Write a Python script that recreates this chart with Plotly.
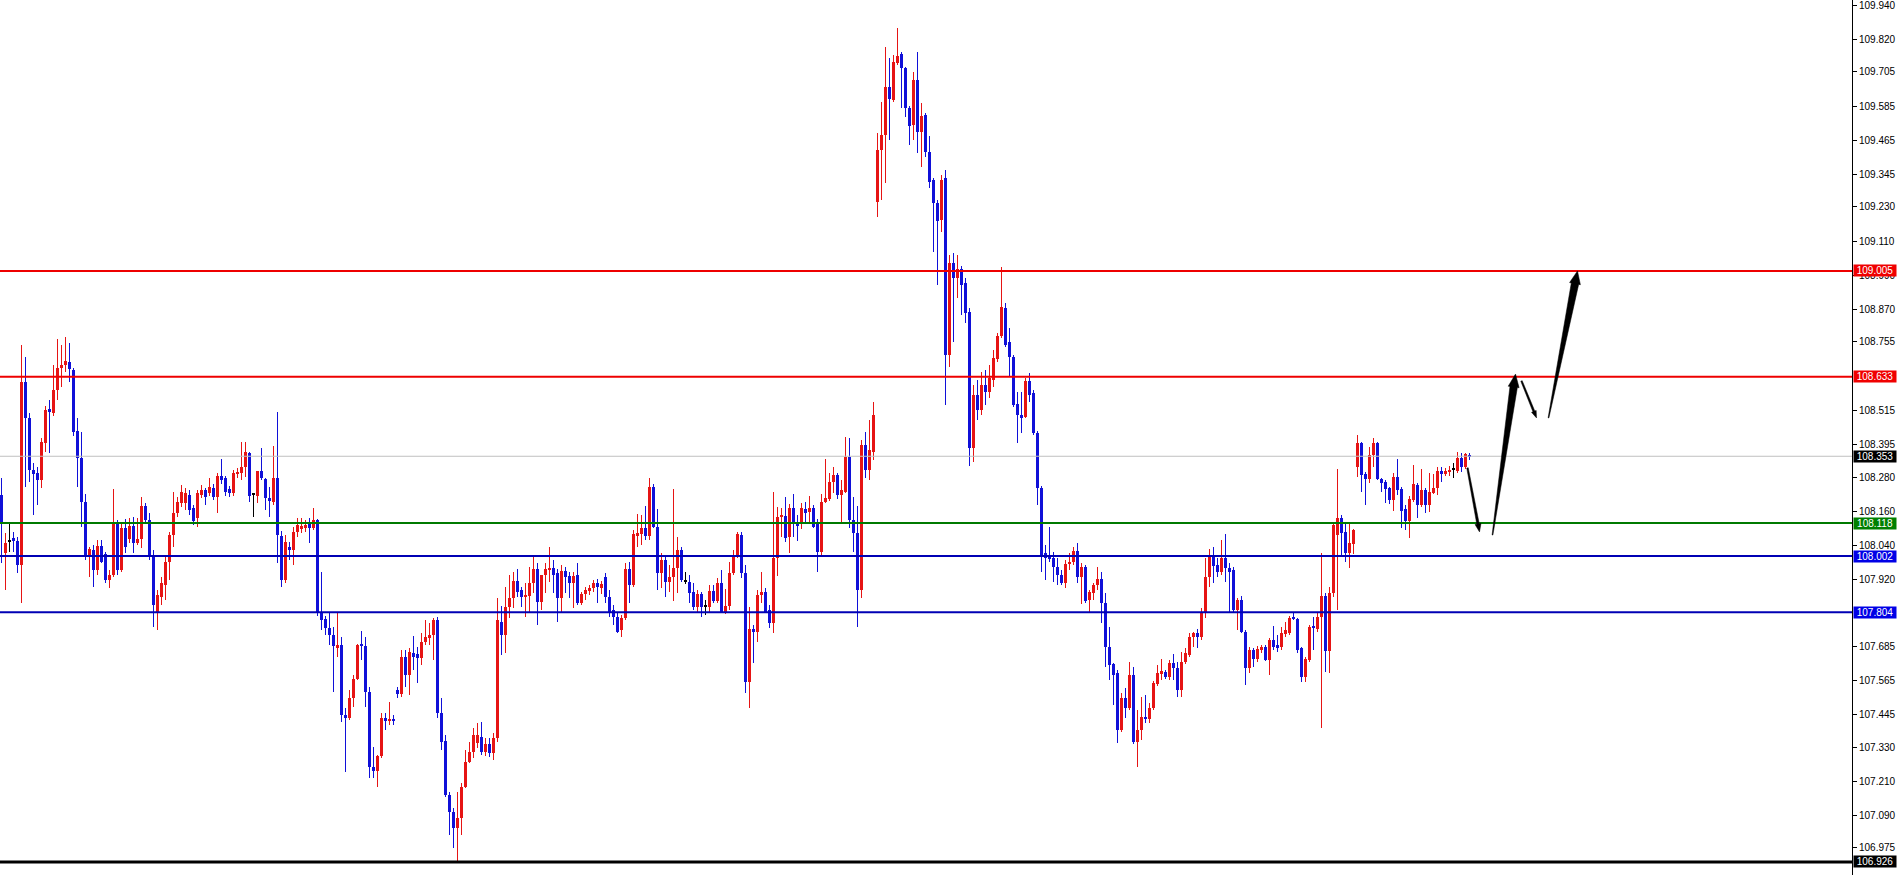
import math
import plotly.graph_objects as go

# ---------------- data (USDJPY-like candles) ----------------
opens = [
108.217,108.013,108.052,108.066,108.055,107.970,108.614,108.488,108.305,108.294,
108.270,108.400,108.520,108.505,108.586,108.664,108.674,108.685,108.657,108.442,
108.347,108.192,107.999,108.023,107.953,108.038,108.009,107.918,107.936,108.122,
107.953,108.101,108.062,108.108,108.048,108.062,108.178,108.129,107.999,107.805,
107.858,107.900,107.981,108.076,108.154,108.189,108.189,108.217,108.171,108.136,
108.217,108.235,108.224,108.242,108.210,108.284,108.277,108.238,108.224,108.291,
108.294,108.315,108.365,108.217,108.213,108.301,108.273,108.206,108.192,108.277,
108.073,107.918,108.034,108.023,108.087,108.097,108.101,108.115,108.101,108.129,
107.802,107.781,107.749,107.724,107.682,107.689,107.443,107.432,107.503,107.570,
107.689,107.686,107.524,107.260,107.246,107.299,107.432,107.422,107.429,107.531,
107.517,107.647,107.584,107.661,107.658,107.643,107.700,107.717,107.724,107.777,
107.450,107.352,107.162,107.102,107.046,107.081,107.190,107.278,107.313,107.345,
107.366,107.313,107.341,107.309,107.362,107.770,107.724,107.823,107.855,107.914,
107.883,107.858,107.862,107.907,107.957,107.840,107.936,107.953,107.960,107.943,
107.855,107.950,107.932,107.907,107.936,107.837,107.869,107.879,107.890,107.907,
107.890,107.929,107.858,107.812,107.788,107.742,107.784,107.957,107.900,108.076,
108.080,108.101,108.073,108.245,108.104,107.943,107.988,107.911,107.929,107.960,
108.023,107.914,107.911,107.876,107.823,107.869,107.826,107.823,107.879,107.844,
107.907,107.805,107.826,107.943,108.002,108.076,107.943,107.559,107.746,107.735,
107.865,107.876,107.812,107.767,107.995,108.139,108.143,108.069,108.171,108.118,
108.118,108.168,108.157,108.171,108.118,108.016,108.192,108.203,108.263,108.287,
108.217,108.228,108.351,108.129,108.083,107.883,108.393,108.305,108.368,109.247,
109.430,109.483,109.652,109.606,109.736,109.768,109.719,109.578,109.518,109.677,
109.494,109.553,109.423,109.325,109.244,109.184,109.332,108.709,109.033,108.980,
109.012,108.963,108.861,108.382,108.569,108.516,108.604,108.579,108.621,108.695,
108.776,108.875,108.755,108.702,108.537,108.498,108.491,108.618,108.576,108.435,
108.242,108.013,107.999,107.995,107.964,107.936,107.907,107.974,107.981,108.020,
107.929,107.964,107.848,107.872,107.900,107.921,107.837,107.682,107.622,107.591,
107.390,107.503,107.468,107.584,107.348,107.390,107.432,107.429,107.468,107.552,
107.587,107.594,107.577,107.626,107.608,107.531,107.629,107.654,107.717,107.731,
107.717,107.802,107.929,107.999,107.970,107.946,107.995,107.960,107.953,107.812,
107.848,107.735,107.608,107.672,107.640,107.672,107.682,107.636,107.707,107.689,
107.682,107.728,107.731,107.784,107.781,107.679,107.577,107.636,107.753,107.746,
107.788,107.862,107.668,107.872,108.076,108.136,108.087,108.013,108.045,108.315,
108.400,108.291,108.273,108.357,108.400,108.273,108.263,108.242,108.199,108.280,
108.238,108.168,108.125,108.199,108.252,108.182,108.235,108.182,108.224,108.242,
108.301,108.294,108.298,108.305,108.301,108.347,108.315,108.358]

highs = [
108.277,108.083,108.118,108.087,108.069,108.744,108.702,108.505,108.329,108.315,
108.417,108.530,108.551,108.674,108.766,108.744,108.773,108.752,108.664,108.488,
108.439,108.220,108.034,108.041,108.059,108.059,108.016,107.953,108.238,108.129,
108.122,108.132,108.136,108.139,108.136,108.210,108.189,108.154,108.023,107.883,
107.929,107.999,108.087,108.228,108.210,108.252,108.242,108.235,108.182,108.235,
108.252,108.242,108.277,108.256,108.294,108.343,108.284,108.249,108.305,108.312,
108.403,108.403,108.368,108.220,108.224,108.382,108.277,108.245,108.389,108.509,
108.090,108.076,108.052,108.104,108.136,108.136,108.129,108.136,108.171,108.132,
107.946,107.791,107.805,107.753,107.802,107.717,107.468,107.531,107.584,107.693,
107.738,107.717,107.542,107.330,107.302,107.450,107.450,107.489,107.443,107.542,
107.672,107.672,107.679,107.721,107.682,107.731,107.777,107.767,107.784,107.788,
107.503,107.373,107.172,107.116,107.172,107.204,107.320,107.348,107.397,107.415,
107.418,107.362,107.362,107.380,107.855,107.826,107.893,107.936,107.946,107.957,
107.893,107.907,107.964,108.002,107.977,107.858,107.977,108.034,107.988,107.957,
107.970,107.964,107.946,107.946,107.977,107.876,107.893,107.900,107.918,107.921,
107.914,107.943,107.883,107.830,107.805,107.795,107.977,107.981,108.094,108.150,
108.147,108.178,108.277,108.256,108.168,108.013,108.006,107.970,108.238,108.069,
108.034,107.946,107.936,107.907,107.883,107.876,107.848,107.900,107.900,107.925,
107.953,107.886,107.981,108.023,108.087,108.087,107.970,107.823,107.760,107.883,
107.946,107.890,107.830,108.228,108.175,108.171,108.210,108.185,108.220,108.147,
108.189,108.192,108.213,108.182,108.132,108.220,108.343,108.294,108.315,108.294,
108.270,108.421,108.417,108.210,108.178,108.410,108.439,108.481,108.544,109.490,
109.599,109.793,109.754,109.765,109.860,109.775,109.722,109.585,109.705,109.775,
109.596,109.561,109.480,109.332,109.255,109.343,109.360,109.061,109.068,109.061,
109.022,108.980,108.875,108.604,108.621,108.650,108.657,108.674,108.727,108.787,
109.019,108.892,108.804,108.709,108.579,108.579,108.628,108.646,108.586,108.442,
108.249,108.041,108.104,108.016,107.995,107.953,107.988,108.013,108.034,108.048,
107.977,107.970,107.883,107.907,107.964,107.946,107.872,107.753,107.626,107.601,
107.520,107.538,107.629,107.612,107.461,107.506,107.513,107.485,107.563,107.619,
107.640,107.601,107.636,107.658,107.629,107.665,107.679,107.731,107.735,107.746,
107.819,107.995,108.027,108.034,107.995,108.059,108.080,107.977,107.964,107.855,
107.862,107.742,107.682,107.679,107.686,107.689,107.689,107.714,107.756,107.724,
107.753,107.770,107.791,107.802,107.784,107.682,107.647,107.760,107.788,107.802,
108.013,107.872,107.893,108.122,108.308,108.147,108.118,108.118,108.097,108.428,
108.403,108.298,108.386,108.417,108.403,108.277,108.270,108.245,108.294,108.343,
108.245,108.182,108.213,108.322,108.259,108.308,108.242,108.294,108.291,108.315,
108.315,108.312,108.319,108.329,108.368,108.365,108.365,108.365]

lows = [
107.977,107.883,108.016,108.016,107.943,107.837,108.245,108.263,108.147,108.182,
108.242,108.368,108.365,108.495,108.551,108.596,108.650,108.614,108.425,108.245,
108.104,107.988,107.929,107.893,107.936,107.977,107.907,107.890,107.929,107.936,
107.946,108.013,108.048,108.013,108.041,108.030,108.122,107.988,107.753,107.742,
107.830,107.848,107.918,108.034,108.139,108.175,108.164,108.147,108.111,108.104,
108.206,108.182,108.213,108.199,108.154,108.256,108.213,108.210,108.213,108.277,
108.270,108.280,108.192,108.139,108.189,108.270,108.164,108.139,108.182,107.977,
107.893,107.907,107.988,107.970,108.069,108.083,108.087,108.048,108.094,107.791,
107.742,107.724,107.689,107.524,107.647,107.418,107.243,107.425,107.471,107.566,
107.636,107.471,107.221,107.221,107.190,107.292,107.390,107.408,107.408,107.503,
107.506,107.542,107.513,107.601,107.556,107.619,107.689,107.689,107.636,107.432,
107.320,107.155,107.021,106.975,106.926,107.021,107.186,107.274,107.292,107.327,
107.302,107.299,107.295,107.285,107.348,107.654,107.661,107.784,107.819,107.858,
107.823,107.788,107.805,107.872,107.760,107.812,107.872,107.911,107.872,107.770,
107.805,107.872,107.855,107.819,107.830,107.830,107.848,107.865,107.876,107.837,
107.869,107.837,107.788,107.760,107.731,107.717,107.777,107.837,107.893,108.034,
108.041,108.059,108.059,108.101,107.883,107.890,107.858,107.876,107.844,107.872,
107.911,107.904,107.837,107.812,107.805,107.788,107.795,107.802,107.837,107.837,
107.802,107.798,107.812,107.936,107.995,107.925,107.520,107.468,107.626,107.700,
107.837,107.802,107.749,107.731,107.932,108.069,108.052,108.013,108.069,108.055,
108.097,108.122,108.122,108.101,107.946,107.999,108.189,108.196,108.224,108.203,
108.122,108.224,108.101,108.016,107.753,107.855,108.277,108.270,108.340,109.195,
109.255,109.314,109.466,109.599,109.729,109.578,109.546,109.448,109.466,109.420,
109.371,109.406,109.297,109.072,108.956,109.142,108.533,108.667,108.755,108.910,
108.850,108.822,108.319,108.333,108.481,108.498,108.533,108.558,108.596,108.685,
108.769,108.737,108.632,108.526,108.400,108.435,108.488,108.544,108.428,108.182,
107.946,107.918,107.981,107.911,107.900,107.900,107.890,107.953,107.970,107.907,
107.834,107.837,107.805,107.848,107.883,107.767,107.612,107.566,107.478,107.345,
107.383,107.432,107.461,107.341,107.260,107.355,107.415,107.415,107.461,107.545,
107.566,107.570,107.566,107.566,107.506,107.506,107.622,107.647,107.682,107.679,
107.707,107.784,107.893,107.907,107.929,107.936,107.911,107.802,107.802,107.742,
107.731,107.549,107.591,107.612,107.629,107.661,107.633,107.584,107.672,107.665,
107.672,107.717,107.724,107.777,107.661,107.559,107.559,107.629,107.672,107.735,
107.397,107.594,107.591,107.858,107.812,107.999,107.981,107.960,108.009,108.280,
108.228,108.182,108.259,108.315,108.270,108.228,108.189,108.185,108.161,108.217,
108.101,108.094,108.066,108.192,108.136,108.175,108.154,108.157,108.220,108.217,
108.263,108.284,108.284,108.277,108.294,108.298,108.308,108.340]

closes = [
108.118,108.048,108.052,108.055,107.970,108.614,108.488,108.305,108.291,108.270,
108.403,108.516,108.509,108.586,108.664,108.674,108.688,108.660,108.439,108.347,
108.192,107.999,108.027,107.953,108.038,107.981,107.918,107.936,108.122,107.953,
108.101,108.034,108.108,108.048,108.062,108.178,108.129,107.999,107.830,107.865,
107.907,107.981,108.076,108.154,108.192,108.228,108.224,108.164,108.125,108.224,
108.235,108.210,108.245,108.210,108.284,108.270,108.228,108.224,108.294,108.298,
108.315,108.368,108.213,108.217,108.301,108.277,108.206,108.199,108.277,108.076,
107.918,108.052,108.023,108.087,108.111,108.108,108.111,108.101,108.129,107.802,
107.777,107.749,107.724,107.686,107.689,107.443,107.432,107.503,107.570,107.689,
107.686,107.524,107.260,107.246,107.299,107.432,107.422,107.429,107.422,107.517,
107.647,107.584,107.665,107.647,107.643,107.700,107.717,107.724,107.777,107.450,
107.348,107.162,107.102,107.046,107.081,107.190,107.278,107.313,107.373,107.373,
107.313,107.341,107.309,107.362,107.777,107.724,107.823,107.855,107.914,107.876,
107.858,107.862,107.907,107.957,107.840,107.936,107.957,107.960,107.936,107.855,
107.950,107.929,107.907,107.932,107.837,107.869,107.883,107.890,107.907,107.893,
107.904,107.858,107.805,107.788,107.735,107.784,107.957,107.900,108.080,108.083,
108.101,108.073,108.245,108.104,107.943,107.988,107.911,107.929,107.960,108.023,
107.918,107.914,107.872,107.823,107.869,107.823,107.826,107.879,107.844,107.907,
107.805,107.826,107.943,108.002,108.080,107.943,107.559,107.746,107.735,107.865,
107.876,107.805,107.767,107.995,108.139,108.147,108.066,108.171,108.118,108.108,
108.171,108.154,108.171,108.104,108.016,108.192,108.206,108.263,108.287,108.217,
108.235,108.351,108.129,108.083,107.883,108.393,108.305,108.375,108.498,109.430,
109.483,109.652,109.610,109.740,109.761,109.719,109.578,109.515,109.677,109.494,
109.550,109.423,109.318,109.244,109.181,109.325,108.709,109.033,108.980,109.012,
108.956,108.857,108.382,108.569,108.516,108.604,108.579,108.628,108.699,108.776,
108.878,108.744,108.702,108.533,108.498,108.491,108.618,108.569,108.435,108.242,
108.006,107.995,107.992,107.964,107.936,107.907,107.974,107.981,108.020,107.929,
107.964,107.844,107.876,107.900,107.921,107.837,107.682,107.619,107.584,107.390,
107.503,107.468,107.584,107.348,107.390,107.436,107.429,107.468,107.556,107.591,
107.598,107.577,107.626,107.608,107.531,107.629,107.661,107.717,107.731,107.717,
107.802,107.929,107.999,107.967,107.946,107.995,107.960,107.946,107.812,107.848,
107.735,107.608,107.672,107.640,107.675,107.682,107.636,107.707,107.682,107.679,
107.731,107.742,107.784,107.781,107.672,107.577,107.640,107.753,107.749,107.788,
107.862,107.668,107.872,108.111,108.136,108.083,108.013,108.048,108.094,108.400,
108.287,108.273,108.357,108.400,108.273,108.259,108.238,108.199,108.280,108.235,
108.161,108.125,108.203,108.256,108.182,108.235,108.182,108.228,108.242,108.301,
108.294,108.301,108.305,108.305,108.347,108.315,108.361,108.353]

# horizontal levels drawn on the chart
level_prices = [109.005, 108.633, 108.353, 108.118, 108.002, 107.804, 106.926]
level_colors = ["#EE0000", "#EE0000", "#C0C0C0", "#007A00", "#0000B4", "#0000B4", "#000000"]
level_widths = [2, 2, 1, 2, 2, 2, 3]
label_colors = ["#F00000", "#F00000", "#000000", "#008000", "#0000E6", "#0000E6", "#000000"]

# price-axis tick labels
tick_values = [109.940, 109.820, 109.705, 109.585, 109.465, 109.345, 109.230, 109.110,
               108.990, 108.870, 108.755, 108.515, 108.395, 108.280, 108.160, 108.040,
               107.920, 107.685, 107.565, 107.445, 107.330, 107.210, 107.090, 106.975]

# projection arrows: (tail bar, tail price, head bar, head price)
arrow_tails_x = [366.5, 372.75, 380.0, 386.75]
arrow_tails_y = [108.312, 108.076, 108.618, 108.488]
arrow_heads_x = [369.5, 378.5, 383.75, 394.0]
arrow_heads_y = [108.087, 108.642, 108.488, 109.005]

# ---------------- styling / geometry ----------------
W, H = 1899, 875
PLOT_W = 1852
Y_MIN, Y_MAX = 106.880, 109.958
X_MIN = -0.375
X_MAX = X_MIN + PLOT_W / 4.0
UP_COLOR = "#E61414"
DOWN_COLOR = "#1010D8"
DOJI_COLOR = "#000000"

n = min(len(opens), len(highs), len(lows), len(closes))
xs = list(range(n))

body_base, body_h, body_col = [], [], []
wick_base, wick_h, wick_col = [], [], []
min_body = (Y_MAX - Y_MIN) / H * 1.0
for i in range(n):
    o, h, l, c = opens[i], highs[i], lows[i], closes[i]
    hi = max(h, o, c)
    lo = min(l, o, c)
    if c > o:
        col = UP_COLOR
    elif c < o:
        col = DOWN_COLOR
    else:
        col = DOJI_COLOR
    body_base.append(min(o, c))
    body_h.append(max(abs(c - o), min_body))
    body_col.append(col)
    wick_base.append(lo)
    wick_h.append(hi - lo)
    wick_col.append(col)

fig = go.Figure()
fig.add_trace(go.Bar(x=xs, y=wick_h, base=wick_base, width=0.25,
                     marker=dict(color=wick_col, line=dict(width=0)),
                     hoverinfo="skip"))
fig.add_trace(go.Bar(x=xs, y=body_h, base=body_base, width=0.75,
                     marker=dict(color=body_col, line=dict(width=0)),
                     hoverinfo="skip"))

shapes = []
for p, c, w in zip(level_prices, level_colors, level_widths):
    shapes.append(dict(type="line", xref="paper", x0=0, x1=1, yref="y", y0=p, y1=p,
                       line=dict(color=c, width=w), layer="above"))

# arrow polygons (computed in pixel space, converted back to data units)
sx = PLOT_W / (X_MAX - X_MIN)
sy = H / (Y_MAX - Y_MIN)
arrow_style = [  # tail width, shaft width at head, head length, head width (px)
    (1.5, 2.5, 8, 6),
    (0.8, 7.5, 13, 11),
    (1.5, 2.0, 7, 5),
    (0.8, 7.5, 13, 11),
]
for k in range(len(arrow_tails_x)):
    tx, ty = arrow_tails_x[k] * sx, arrow_tails_y[k] * sy
    hx, hy = arrow_heads_x[k] * sx, arrow_heads_y[k] * sy
    dx, dy = hx - tx, hy - ty
    L = math.hypot(dx, dy)
    ux, uy = dx / L, dy / L
    nx, ny = -uy, ux
    tw, sw, hl, hw = arrow_style[k]
    bx, by = hx - ux * hl, hy - uy * hl
    pts = [
        (tx + nx * tw / 2, ty + ny * tw / 2),
        (bx + nx * sw / 2, by + ny * sw / 2),
        (bx + nx * hw / 2, by + ny * hw / 2),
        (hx, hy),
        (bx - nx * hw / 2, by - ny * hw / 2),
        (bx - nx * sw / 2, by - ny * sw / 2),
        (tx - nx * tw / 2, ty - ny * tw / 2),
    ]
    path = "M " + " L ".join(f"{px / sx:.4f},{py / sy:.5f}" for px, py in pts) + " Z"
    shapes.append(dict(type="path", xref="x", yref="y", path=path,
                       fillcolor="#000000", line=dict(color="#000000", width=0.5),
                       layer="above"))

annotations = []
for p, bg in zip(level_prices, label_colors):
    annotations.append(dict(xref="paper", x=1, xanchor="left", xshift=1,
                            yref="y", y=p, yanchor="middle",
                            text=f"{p:.3f}", showarrow=False,
                            font=dict(family="Liberation Sans", size=10, color="#FFFFFF"),
                            bgcolor=bg, borderpad=0, width=42, height=11, align="center"))

fig.update_layout(
    width=W, height=H,
    margin=dict(l=0, r=W - PLOT_W, t=0, b=0),
    paper_bgcolor="#FFFFFF", plot_bgcolor="#FFFFFF",
    barmode="overlay", bargap=0, showlegend=False,
    shapes=shapes, annotations=annotations,
    template="none",
)
fig.update_xaxes(range=[X_MIN, X_MAX], visible=False, fixedrange=True)
fig.update_yaxes(range=[Y_MIN, Y_MAX], side="right",
                 tickvals=tick_values, ticktext=[f"{v:.3f}" for v in tick_values],
                 ticks="outside", ticklen=4, tickwidth=1, tickcolor="#000000",
                 showline=True, linecolor="#000000", linewidth=1,
                 showgrid=False, zeroline=False, automargin=False, fixedrange=True,
                 ticklabeloverflow="allow",
                 tickfont=dict(family="Liberation Sans", size=10, color="#000000"))

fig.write_html("out.html",
               config={"displayModeBar": False},
               post_script="document.body.style.margin='0px';document.body.style.overflow='hidden';")
